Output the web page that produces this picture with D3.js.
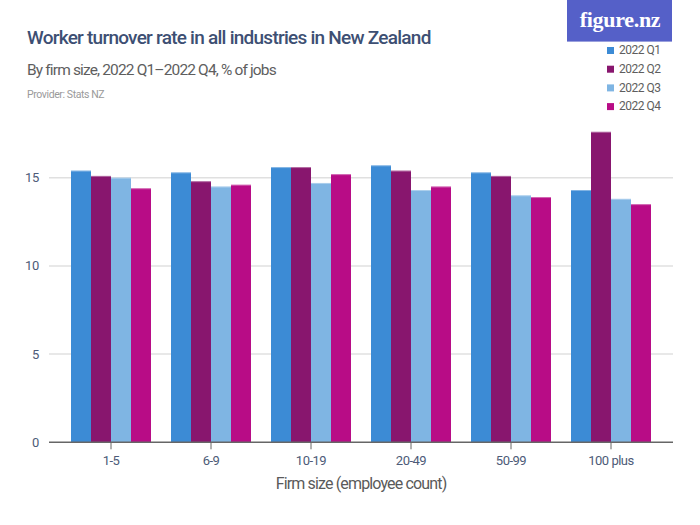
<!DOCTYPE html>
<html><head><meta charset="utf-8">
<script src="https://cdn.jsdelivr.net/npm/d3@7"></script>
<style>body{margin:0;background:#fff}svg{display:block}</style>
</head><body>
<script>
const categories = ["1-5","6-9","10-19","20-49","50-99","100 plus"];
const seriesNames = ["2022 Q1","2022 Q2","2022 Q3","2022 Q4"];
const q1 = [15.4,15.3,15.6,15.7,15.3,14.3];
const q2 = [15.1,14.8,15.6,15.4,15.1,17.6];
const q3 = [15.0,14.5,14.7,14.3,14.0,13.8];
const q4 = [14.4,14.6,15.2,14.5,13.9,13.5];
const yTicks = [0,5,10,15];
const colors = ["#3c8bd5","#88166e","#7fb5e3","#b80c86"];
const seriesValues = [q1,q2,q3,q4];

const W=700,H=525;
const svg=d3.select("body").append("svg").attr("width",W).attr("height",H);

const x0=d3.scaleBand().domain(categories).range([61,661]).paddingInner(0.2).paddingOuter(0.1);
const x1=d3.scaleBand().domain(seriesNames).range([0,x0.bandwidth()]);
const y=d3.scaleLinear().domain([0,17.6]).range([442.3,131.8]);

svg.append("g").selectAll("line").data(yTicks.filter(d=>d>0)).join("line")
 .attr("x1",49).attr("x2",673).attr("y1",d=>y(d)).attr("y2",d=>y(d))
 .attr("stroke","#e0e0e0").attr("stroke-width",1.5);

svg.append("g").selectAll("text").data(yTicks).join("text")
 .attr("x",39).attr("y",d=>y(d)).attr("dy","0.35em").attr("text-anchor","end")
 .attr("font-family","Roboto, sans-serif").attr("font-size",13).attr("fill","#4d5b78")
 .attr("letter-spacing","-0.3").text(d=>d);

const data=[];
categories.forEach((c,i)=>seriesNames.forEach((s,j)=>data.push({c,s,v:seriesValues[j][i],col:colors[j]})));
const g=svg.append("g");
g.selectAll("rect.bar").data(data).join("rect").attr("class","bar")
 .attr("x",d=>x0(d.c)+x1(d.s)).attr("width",x1.bandwidth())
 .attr("y",d=>y(d.v)).attr("height",d=>y(0)-y(d.v)).attr("fill",d=>d.col);
g.selectAll("rect.cap").data(data).join("rect").attr("class","cap")
 .attr("x",d=>x0(d.c)+x1(d.s)).attr("width",x1.bandwidth())
 .attr("y",d=>y(d.v)).attr("height",1).attr("fill","#fff").attr("opacity",0.35);

const xa=svg.append("g").attr("transform",`translate(0,${y(0)})`);
xa.append("line").attr("x1",49).attr("x2",673).attr("stroke","#666").attr("stroke-width",1.5);
xa.selectAll("line.t").data(categories).join("line").attr("class","t")
 .attr("x1",d=>x0(d)+x0.bandwidth()/2).attr("x2",d=>x0(d)+x0.bandwidth()/2)
 .attr("y1",0).attr("y2",7).attr("stroke","#666");
xa.selectAll("text").data(categories).join("text")
 .attr("x",d=>x0(d)+x0.bandwidth()/2).attr("y",23).attr("text-anchor","middle")
 .attr("font-family","Roboto, sans-serif").attr("font-size",13).attr("fill","#4d5b78")
 .attr("letter-spacing","-0.5").text(d=>d);

svg.append("text").attr("x",361).attr("y",489).attr("text-anchor","middle")
 .attr("font-family","Roboto, sans-serif").attr("font-size",16).attr("fill","#5a5a5a")
 .attr("letter-spacing","-0.85").text("Firm size (employee count)");

svg.append("text").attr("x",27).attr("y",44).attr("font-family","Roboto, sans-serif")
 .attr("font-weight",500).attr("font-size",19).attr("fill","#3d4f73").attr("letter-spacing","-0.75")
 .text("Worker turnover rate in all industries in New Zealand");
svg.append("text").attr("x",27).attr("y",75).attr("font-family","Roboto, sans-serif")
 .attr("font-size",15.5).attr("fill","#5e5e5e").attr("letter-spacing","-0.85")
 .text("By firm size, 2022 Q1–2022 Q4, % of jobs");
svg.append("text").attr("x",27).attr("y",98).attr("font-family","Roboto, sans-serif")
 .attr("font-size",10.5).attr("fill","#9a9a9a").attr("letter-spacing","-0.4")
 .text("Provider: Stats NZ");

svg.append("rect").attr("x",567).attr("y",0).attr("width",105).attr("height",42).attr("fill","#5560c8");
svg.append("rect").attr("x",567).attr("y",41).attr("width",105).attr("height",1).attr("fill","#9aa0dd");
svg.append("text").attr("x",620).attr("y",27).attr("text-anchor","middle")
 .attr("font-family","Liberation Serif, serif").attr("font-weight","bold").attr("font-size",22)
 .attr("fill","#fff").attr("letter-spacing","-0.3").text("figure.nz");

const lg=svg.append("g").selectAll("g").data(seriesNames).join("g")
 .attr("transform",(d,i)=>`translate(607,${50+i*18.7})`);
lg.append("rect").attr("x",0).attr("y",-3).attr("width",7).attr("height",7).attr("fill",(d,i)=>colors[i]);
lg.append("text").attr("x",12).attr("y",0).attr("dy","0.35em")
 .attr("font-family","Roboto, sans-serif").attr("font-size",12).attr("fill","#5e5e5e")
 .attr("letter-spacing","-0.5").text(d=>d);
</script>
</body></html>
